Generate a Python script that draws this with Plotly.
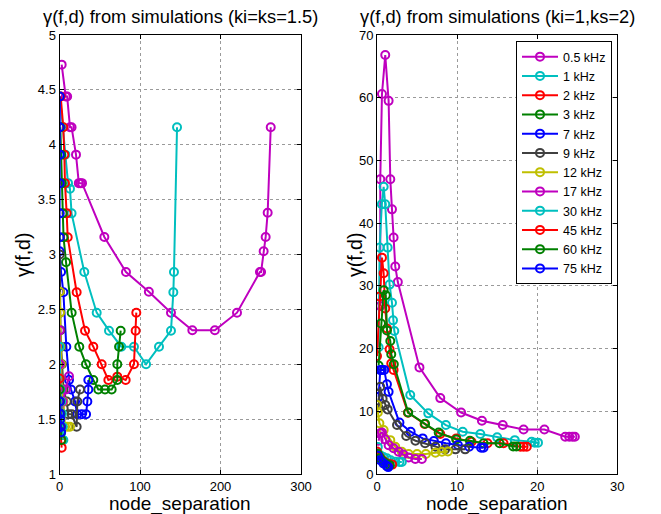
import plotly.graph_objects as go

W, H = 661, 514

labels = ["0.5 kHz", "1 kHz", "2 kHz", "3 kHz", "7 kHz", "9 kHz", "12 kHz",
          "17 kHz", "30 kHz", "45 kHz", "60 kHz", "75 kHz"]
colors = ["#BF00BF", "#00BFBF", "#FF0000", "#008000", "#0000FF", "#404040", "#BFBF00",
          "#BF00BF", "#00BFBF", "#FF0000", "#008000", "#0000FF"]

# ---- left panel: ki=ks=1.5 ----
L05_x = [2.7, 7.7, 9.5, 13, 15, 20.5, 24, 26, 28, 55.7, 82.6, 111, 138.5, 165, 193, 220.5, 249, 250.4, 253.6, 256.1, 258.6, 262.4]
L05_y = [4.73, 4.44, 4.44, 4.16, 4.16, 3.91, 3.65, 3.65, 3.65, 3.16, 2.84, 2.66, 2.47, 2.31, 2.31, 2.47, 2.84, 2.84, 3.03, 3.16, 3.38, 4.16]
L1_x = [0.6, 4, 7.2, 10.6, 13, 15, 30.8, 46.2, 61.5, 76.8, 92.5, 107.5, 123.6, 138.5, 141.4, 142.2, 146]
L1_y = [4.44, 4.16, 3.91, 3.65, 3.6, 3.375, 2.84, 2.47, 2.306, 2.16, 2.16, 2.0, 2.16, 2.306, 2.656, 2.84, 4.16]
L2_x = [1.5, 4.7, 6.0, 6.8, 8.9, 10.2, 21.3, 31.7, 42, 52.4, 60.7, 71.8, 82.2, 92.5, 94.6, 95.4]
L2_y = [4.44, 4.16, 3.91, 3.65, 3.375, 3.157, 2.656, 2.306, 2.16, 2.0, 1.857, 1.887, 1.857, 2.0, 2.306, 2.47]
L3_x = [1.0, 2.0, 3.0, 4.0, 5.0, 8.1, 15.1, 24.6, 32.9, 42, 48.2, 56.5, 64.8, 71.8, 71.8, 74, 76]
L3_y = [4.16, 3.91, 3.65, 3.375, 3.157, 2.93, 2.47, 2.16, 2.0, 1.857, 1.77, 1.77, 1.77, 1.857, 2.0, 2.16, 2.306]
L7_x = [0.4, 0.3, 0.3, 0.3, 0.3, 0.3, 0.0, 1.9, 4.8, 8.5, 11.8, 14.3, 19.3, 22, 27.6, 33, 34.6, 35.8, 35.8]
L7_y = [4.44, 4.16, 3.91, 3.65, 3.375, 3.157, 3.03, 2.84, 2.656, 2.16, 1.857, 1.77, 1.66, 1.544, 1.544, 1.544, 1.66, 1.77, 1.857]
L9_x = [0.3, 0.5, 0.8, 1.2, 2, 3, 5, 9, 11, 15.1, 21.3, 22.1, 25.5]
L9_y = [3.0, 2.66, 2.47, 2.31, 2.16, 2.0, 1.77, 1.66, 1.544, 1.544, 1.43, 1.66, 1.77]
L12_x = [0.3, 0.6, 1, 2, 3, 5, 6.8, 10, 13]
L12_y = [2.66, 2.47, 2.16, 2.0, 1.77, 1.66, 1.43, 1.43, 1.43]
L17_x = [0.2, 0.5, 1, 1.5, 1.9, 4, 8, 11.8]
L17_y = [2.31, 2.0, 1.77, 1.55, 1.43, 1.66, 1.77, 1.89]
L30_x = [0.2, 0.5, 1, 2, 3, 4, 4.8]
L30_y = [2.16, 1.87, 1.77, 1.66, 1.55, 1.43, 1.31]
L45_x = [0.2, 0.5, 1, 1.5, 2, 2.7]
L45_y = [1.87, 1.66, 1.55, 1.43, 1.31, 1.24]
L60_x = [0.2, 0.5, 1, 1.5, 2, 2.5]
L60_y = [1.77, 1.66, 1.55, 1.43, 1.38, 1.31]
L75_x = [0.2, 0.5, 1, 1.5, 2]
L75_y = [1.66, 1.55, 1.5, 1.43, 1.38]

# ---- right panel: ki=1, ks=2 ----
R05_x = [0.41, 0.41, 0.62, 1.03, 1.45, 1.66, 1.87, 2.07, 2.28, 2.6, 5.3, 7.9, 10.5, 13.1, 15.7, 18.3, 20.9, 23.5, 24.0, 24.4, 24.7]
R05_y = [26.8, 47, 60.6, 66.8, 59.5, 47, 42.2, 37.7, 33.1, 30.6, 17.0, 12.1, 9.8, 8.5, 7.8, 7.1, 7.1, 5.95, 5.95, 5.95, 5.95]
R1_x = [0.2, 0.33, 0.6, 0.83, 1.03, 1.33, 1.57, 1.87, 2.0, 2.16, 4.15, 6.4, 8.6, 10.7, 12.9, 15.0, 17.2, 19.3, 19.7, 20.1]
R1_y = [20.2, 36.1, 43, 45.8, 43, 36.1, 30.2, 27.3, 24.5, 22.8, 12.6, 9.67, 7.8, 6.75, 6.37, 5.84, 5.4, 5.15, 5.0, 5.0]
R2_x = [0.0, 0.33, 0.62, 0.83, 1.03, 1.24, 1.57, 1.78, 2.07, 3.86, 5.94, 7.9, 9.9, 11.8, 13.8, 15.8, 17.9, 18.3, 18.7]
R2_y = [18.8, 28.3, 34.5, 32, 26.4, 23.2, 19.9, 17.6, 16.6, 9.77, 7.97, 6.37, 5.68, 5.15, 4.89, 4.89, 4.35, 4.35, 4.35]
R3_x = [0.2, 0.5, 0.83, 1.1, 1.24, 1.66, 1.78, 2.1, 3.9, 6.0, 7.7, 9.9, 11.6, 13.3, 15.3, 17.0, 17.4]
R3_y = [17.3, 24, 29.3, 28.5, 22.9, 21.2, 19.1, 17.5, 9.8, 8.0, 6.6, 5.5, 5.3, 4.9, 4.9, 4.4, 4.4]
R7_x = [0.2, 0.41, 0.6, 0.9, 1.24, 1.45, 2.8, 4.2, 5.7, 7.1, 8.6, 10.1, 11.5, 13.0, 13.3]
R7_y = [12.3, 16.6, 16.6, 16.6, 14.3, 13.1, 8.2, 6.75, 5.68, 5.26, 4.89, 4.62, 4.35, 4.2, 4.2]
R9_x = [0.2, 0.4, 0.7, 1.03, 1.33, 2.5, 3.65, 4.8, 6.0, 7.3, 8.5, 9.8, 11.0]
R9_y = [10.5, 13.9, 12.0, 11.0, 10.3, 7.8, 6.05, 5.3, 4.89, 4.35, 3.93, 3.93, 3.93]
R12_x = [0.0, 0.1, 0.3, 0.83, 1.66, 2.28, 3.1, 3.95, 5.0, 6.1, 7.3, 8.1, 8.85]
R12_y = [11.0, 9.8, 8.1, 7.0, 5.4, 4.35, 3.55, 3.19, 3.19, 3.19, 3.4, 3.55, 3.6]
R17_x = [0.2, 0.41, 0.62, 1.03, 1.45, 2.07, 2.7, 3.3, 3.95, 4.78, 5.6]
R17_y = [5.3, 6.5, 6.6, 5.5, 4.6, 4.1, 3.55, 3.1, 2.65, 2.39, 2.39]
R30_x = [0.1, 0.41, 0.8, 1.24, 1.7, 2.28, 2.8, 3.1]
R30_y = [4.3, 3.0, 2.7, 2.5, 2.2, 1.96, 1.9, 1.9]
R45_x = [0.0, 0.3, 0.7, 1.1, 1.5, 1.9]
R45_y = [3.6, 2.8, 2.2, 1.8, 1.6, 1.5]
R60_x = [0.1, 0.4, 0.8, 1.2, 1.6]
R60_y = [3.2, 2.5, 2.0, 1.6, 1.4]
R75_x = [0.1, 0.4, 0.8, 1.2, 1.4]
R75_y = [2.9, 2.2, 1.7, 1.3, 1.1]

left_series = [(L05_x, L05_y), (L1_x, L1_y), (L2_x, L2_y), (L3_x, L3_y), (L7_x, L7_y),
               (L9_x, L9_y), (L12_x, L12_y), (L17_x, L17_y), (L30_x, L30_y),
               (L45_x, L45_y), (L60_x, L60_y), (L75_x, L75_y)]
right_series = [(R05_x, R05_y), (R1_x, R1_y), (R2_x, R2_y), (R3_x, R3_y), (R7_x, R7_y),
                (R9_x, R9_y), (R12_x, R12_y), (R17_x, R17_y), (R30_x, R30_y),
                (R45_x, R45_y), (R60_x, R60_y), (R75_x, R75_y)]

left_xticks = [0, 100, 200, 300]
left_yticks = [1, 1.5, 2, 2.5, 3, 3.5, 4, 4.5, 5]
right_xticks = [0, 10, 20, 30]
right_yticks = [0, 10, 20, 30, 40, 50, 60, 70]

FONT = "Liberation Sans, Arial, sans-serif"

fig = go.Figure()
for (x, y), lab, col in zip(left_series, labels, colors):
    fig.add_trace(go.Scatter(x=x, y=y, mode="lines+markers", name=lab, showlegend=False,
                             line=dict(color=col, width=2),
                             marker=dict(symbol="circle-open", size=8, color=col, line=dict(width=2, color=col)),
                             xaxis="x", yaxis="y", hoverinfo="skip"))
for (x, y), lab, col in zip(right_series, labels, colors):
    fig.add_trace(go.Scatter(x=x, y=y, mode="lines+markers", name=lab, showlegend=True,
                             line=dict(color=col, width=2),
                             marker=dict(symbol="circle-open", size=8, color=col, line=dict(width=2, color=col)),
                             xaxis="x2", yaxis="y2", hoverinfo="skip"))

# body margin is removed by the post script, so window pixels map directly to paper
OFF = 0

def px_x(p):
    return (p - OFF) / W

def px_y(p):
    return 1 - (p - OFF) / H

ydom = [px_y(474), px_y(35)]
axis_common = dict(showline=True, linecolor="black", linewidth=1, mirror="ticks",
                   ticks="inside", ticklen=4, tickcolor="black", zeroline=False,
                   showgrid=True, gridcolor="#9a9a9a", griddash="dot", gridwidth=1,
                   automargin=False,
                   tickfont=dict(family=FONT, size=13, color="black"))

fig.update_layout(
    template="none",
    width=W, height=H,
    margin=dict(l=0, r=0, t=0, b=0, pad=0),
    paper_bgcolor="white", plot_bgcolor="white",
    font=dict(family=FONT, color="black"),
    hovermode=False,
    xaxis=dict(domain=[px_x(59.5), px_x(301)], range=[0, 300], tickvals=left_xticks,
               anchor="y", **axis_common),
    yaxis=dict(domain=ydom, range=[1, 5], tickvals=left_yticks,
               ticktext=[f"{v:g}" for v in left_yticks], anchor="x", **axis_common),
    xaxis2=dict(domain=[px_x(377), px_x(617.3)], range=[0, 30], tickvals=right_xticks,
                anchor="y2", **axis_common),
    yaxis2=dict(domain=ydom, range=[0, 70], tickvals=right_yticks, anchor="x2", **axis_common),
    legend=dict(x=px_x(612), y=px_y(41), xanchor="right", yanchor="top",
                bgcolor="white", bordercolor="black", borderwidth=1,
                font=dict(family=FONT, size=12.5, color="black"), itemwidth=36,
                tracegroupgap=0),
    showlegend=True,
)

ann = []
ann.append(dict(text="γ(f,d) from simulations (ki=ks=1.5)", x=px_x(180), y=px_y(16),
                xref="paper", yref="paper", showarrow=False, xanchor="center", yanchor="middle",
                font=dict(family=FONT, size=18.3, color="black")))
ann.append(dict(text="γ(f,d) from simulations (ki=1,ks=2)", x=px_x(497), y=px_y(16),
                xref="paper", yref="paper", showarrow=False, xanchor="center", yanchor="middle",
                font=dict(family=FONT, size=18.3, color="black")))
for cx in (180, 497):
    ann.append(dict(text="node_separation", x=px_x(cx), y=px_y(491), xref="paper", yref="paper",
                    showarrow=False, xanchor="center", yanchor="top",
                    font=dict(family=FONT, size=19, color="black")))
for cx in (23, 355):
    ann.append(dict(text="γ(f,d)", x=px_x(cx), y=px_y(255), xref="paper", yref="paper",
                    showarrow=False, xanchor="center", yanchor="middle", textangle=-90,
                    font=dict(family=FONT, size=19.5, color="black")))
fig.update_layout(annotations=ann)

fig.write_html("out.html",
               config={"displayModeBar": False, "staticPlot": False},
               post_script="document.body.style.margin='0px'; document.body.style.padding='0px';")
